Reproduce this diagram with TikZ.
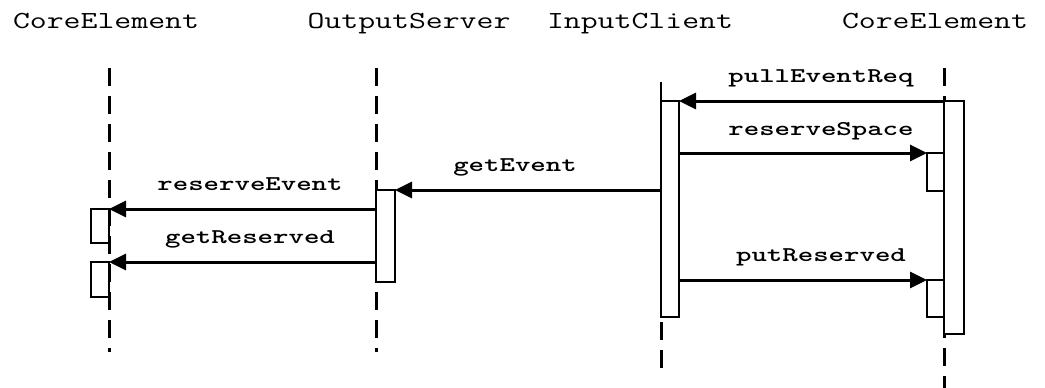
\documentclass[tikz,border=0pt]{standalone}
\usepackage{graphicx}
\usetikzlibrary{arrows.meta}
\tikzset{
  hdr/.style={font=\ttfamily\fontsize{24.5}{26}\selectfont, inner sep=0, anchor=base},
  lbl/.style={font=\ttfamily\bfseries\fontsize{21}{22}\selectfont, inner sep=0, anchor=base},
  life/.style={line width=3pt, dash pattern=on 18pt off 10pt},
  act/.style={draw, fill=white, line width=2pt, inner sep=0, outer sep=0, anchor=north west},
  msg/.style={line width=3pt, -{Triangle[length=17pt,width=16pt]}},
}
\newcommand{\hdrtext}[1]{\scalebox{1.34}[1]{#1}}
\newcommand{\lbltext}[1]{\scalebox{1.4}[1]{#1}}
\begin{document}
\begin{tikzpicture}[x=1pt,y=-1pt]
\useasboundingbox (0,0) rectangle (1045,388);
% headers
\node[hdr] (h1) at (106,28) {\hdrtext{CoreElement}};
\node[hdr] (h2) at (409,28) {\hdrtext{OutputServer}};
\node[hdr] (h3) at (640,28) {\hdrtext{InputClient}};
\node[hdr] (h4) at (935,28) {\hdrtext{CoreElement}};
% lifeline coordinates
\coordinate (l1t) at (109,68);  \coordinate (l1b) at (109,352);
\coordinate (l2t) at (376,68);  \coordinate (l2b) at (376,352);
\coordinate (l3t) at (661,82);  \coordinate (l3m) at (661,101);
\coordinate (l3s) at (661,322); \coordinate (l3b) at (661,372);
\coordinate (l4t) at (944,68);  \coordinate (l4b) at (944,388);
\draw[life] (l2t) -- (l2b);
\draw[line width=1.5pt] (l3t) -- (l3m);
\draw[life] (l3s) -- (l3b);
\draw[life] (l4t) -- (l4b);
% activation boxes
\node[act, minimum width=18pt, minimum height=216pt] (ic) at (661,101) {};
\node[act, minimum width=20pt, minimum height=233pt] (ce) at (944,101) {};
\node[act, minimum width=17pt, minimum height=38pt] (s1) at (927,153) {};
\node[act, minimum width=17pt, minimum height=37pt] (s2) at (927,280) {};
\node[act, minimum width=19pt, minimum height=92pt] (os) at (376,190) {};
\node[act, minimum width=18pt, minimum height=34pt] (b1) at (91,209) {};
\node[act, minimum width=18pt, minimum height=35pt] (b2) at (91,262) {};
\draw[life] (l1t) -- (l1b);
% messages
\draw[msg] (ce.north west) -- (ic.north east);
\draw[msg] (ic.east |- s1.north) -- (s1.north west);
\draw[msg] (ic.west |- os.north) -- (os.north east);
\draw[msg] (os.west |- b1.north) -- (b1.north east);
\draw[msg] (os.west |- b2.north) -- (b2.north east);
\draw[msg] (ic.east |- s2.north) -- (s2.north west);
% labels
\node[lbl] (m1) at (821,82)  {\lbltext{pullEventReq}};
\node[lbl] (m2) at (821,135) {\lbltext{reserveSpace}};
\node[lbl] (m3) at (515,171) {\lbltext{getEvent}};
\node[lbl] (m4) at (250,190) {\lbltext{reserveEvent}};
\node[lbl] (m5) at (250,243) {\lbltext{getReserved}};
\node[lbl] (m6) at (821,261) {\lbltext{putReserved}};
\end{tikzpicture}
\end{document}
